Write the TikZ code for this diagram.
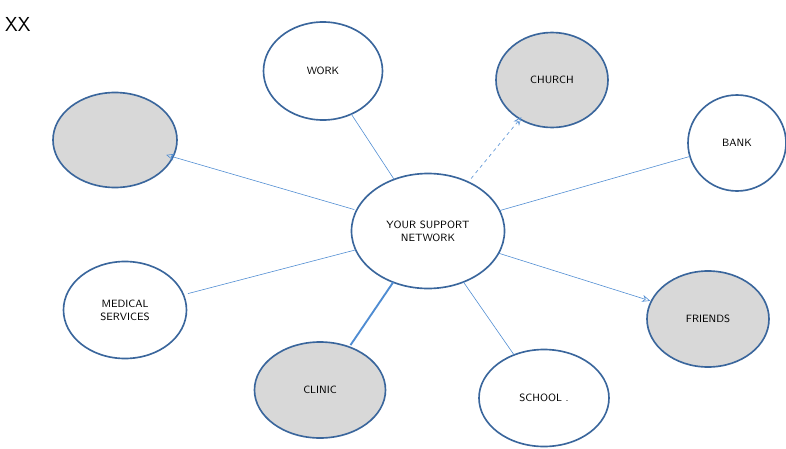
\documentclass[tikz,border=0pt]{standalone}
\usepackage{tikz}
\usetikzlibrary{arrows.meta}
\usetikzlibrary{shapes.geometric}
\definecolor{mrim}{RGB}{58, 102, 156}
\definecolor{mlink}{RGB}{79, 140, 210}
\definecolor{mshade}{RGB}{216, 216, 216}
\tikzset{bubble/.style = {draw = mrim, line width = 1.4pt, ellipse, inner sep = 0, outer sep = 0,
                          fill = white, font = \sffamily\small, align = center}}
\tikzset{greybubble/.style = {bubble, fill = mshade}}
\tikzset{link/.style = {draw = mlink, line width = 0.5pt}}
\tikzset{tip/.style = {-{Stealth[open, length = 7pt, width = 6pt]}}}

\begin{document}
\begin{tikzpicture}[x = 0.03cm, y = -0.03cm]
      \useasboundingbox (0, 0) rectangle (786, 448);

      \node [font = \sffamily\LARGE, anchor = west] (title) at (1, 24) {XX};

      \node [bubble, minimum width = 4.59cm, minimum height = 3.45cm] (hub) at (428, 231) {YOUR SUPPORT\\NETWORK};

      \node [bubble, minimum width = 3.57cm, minimum height = 2.94cm] (work) at (323, 71) {WORK};
      \node [greybubble, minimum width = 3.36cm, minimum height = 2.85cm] (church) at (552, 80) {CHURCH};
      \node [bubble, minimum width = 2.94cm, minimum height = 2.88cm] (bank) at (737, 143) {BANK};
      \node [greybubble, minimum width = 3.66cm, minimum height = 2.88cm] (friends) at (708, 319) {FRIENDS};
      \node [bubble, minimum width = 3.9cm, minimum height = 2.91cm] (school) at (544, 398) {SCHOOL .};
      \node [greybubble, minimum width = 3.93cm, minimum height = 2.88cm] (clinic) at (320, 390) {CLINIC};
      \node [bubble, minimum width = 3.69cm, minimum height = 2.91cm] (medical) at (125, 310) {MEDICAL\\SERVICES};
      \node [greybubble, minimum width = 3.72cm, minimum height = 2.85cm] (blank) at (115, 140) {};

      \draw [link, tip, shorten < = 2pt, shorten > = -6pt] (hub) -- (blank);
      \draw [link] (hub) -- (work);
      \draw [link, dashed, tip, shorten < = 4pt, shorten > = -2pt] (hub) -- (church);
      \draw [link] (hub) -- (bank);
      \draw [link, tip, shorten > = 1pt] (hub) -- (friends);
      \draw [link] (hub) -- (school);
      \draw [link, line width = 1.6pt, shorten > = 2pt] (hub) -- (clinic);
      \draw [link, shorten > = 4pt] (hub) -- (medical);
    \end{tikzpicture}
\end{document}
